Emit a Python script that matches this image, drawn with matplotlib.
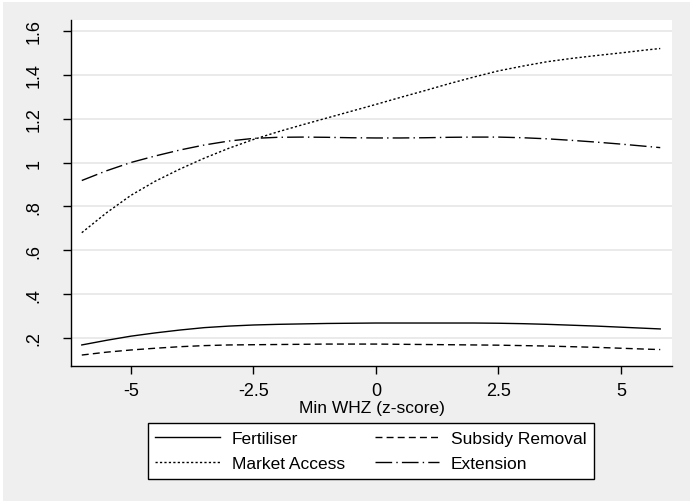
import matplotlib
matplotlib.use("Agg")
import matplotlib.pyplot as plt
from matplotlib.patches import Rectangle

plt.rcParams['font.family'] = ['Liberation Sans', 'DejaVu Sans']

# Predicted effects by minimum weight-for-height z-score
whz = [-6.0, -5.5, -5.0, -4.5, -4.0, -3.5, -3.0, -2.5, -2.0, -1.5, -1.0, -0.5,
       0.0, 0.5, 1.0, 1.5, 2.0, 2.5, 3.0, 3.5, 4.0, 4.5, 5.0, 5.5, 5.8]

fertiliser = [0.168, 0.189, 0.208, 0.223, 0.236, 0.247, 0.254, 0.259, 0.262, 0.264,
              0.266, 0.267, 0.268, 0.268, 0.268, 0.268, 0.268, 0.267, 0.265, 0.262,
              0.258, 0.254, 0.249, 0.244, 0.241]

subsidy_removal = [0.122, 0.135, 0.145, 0.153, 0.160, 0.165, 0.168, 0.169, 0.170, 0.171,
                   0.172, 0.172, 0.172, 0.171, 0.170, 0.169, 0.168, 0.167, 0.165, 0.163,
                   0.160, 0.157, 0.153, 0.149, 0.147]

market_access = [0.680, 0.770, 0.850, 0.915, 0.970, 1.020, 1.065, 1.105, 1.140, 1.172,
                 1.203, 1.234, 1.265, 1.297, 1.328, 1.360, 1.390, 1.418, 1.440, 1.460,
                 1.475, 1.488, 1.500, 1.513, 1.520]

extension = [0.918, 0.962, 1.000, 1.030, 1.057, 1.080, 1.098, 1.110, 1.115, 1.116,
             1.115, 1.113, 1.112, 1.112, 1.113, 1.115, 1.116, 1.116, 1.113, 1.108,
             1.101, 1.093, 1.084, 1.074, 1.068]

x_ticks = [-5, -2.5, 0, 2.5, 5]
x_tick_labels = ["-5", "-2.5", "0", "2.5", "5"]
y_ticks = [0.2, 0.4, 0.6, 0.8, 1.0, 1.2, 1.4, 1.6]
y_tick_labels = [".2", ".4", ".6", ".8", "1", "1.2", "1.4", "1.6"]

W, H = 690, 502
fig = plt.figure(figsize=(W / 100, H / 100), dpi=100, facecolor="white")
# grey graph region with thin white margin at top-left
fig.patches.append(Rectangle((3 / W, 0), 1 - 3 / W, 1 - 3 / H, transform=fig.transFigure,
                             facecolor="#efefef", edgecolor="none", zorder=-10))

ax = fig.add_axes([71 / W, 1 - 367 / H, (672 - 71) / W, (367 - 21) / H])
ax.set_facecolor("white")

lw = 1.0
ax.plot(whz, fertiliser, color="black", lw=lw, linestyle="-", label="Fertiliser")
ax.plot(whz, market_access, color="black", lw=lw, linestyle=(0, (1.6, 1.6)), label="Market Access")
ax.plot(whz, subsidy_removal, color="black", lw=lw, linestyle=(0, (5, 3)), label="Subsidy Removal")
ax.plot(whz, extension, color="black", lw=lw, linestyle=(0, (12, 3, 1, 3)), label="Extension")

ax.set_xlim(-6.22, 6.04)
ax.set_ylim(0.072, 1.65)

ax.set_xticks(x_ticks)
ax.set_xticklabels(x_tick_labels)
ax.set_yticks(y_ticks)
ax.set_yticklabels(y_tick_labels, rotation=90, va="center")

ax.grid(axis="y", color="#e6e6e6", lw=1.2)
ax.set_axisbelow(True)
for s in ["top", "right"]:
    ax.spines[s].set_visible(False)
for s in ["left", "bottom"]:
    ax.spines[s].set_color("black")
    ax.spines[s].set_linewidth(1.0)

ax.tick_params(axis="both", direction="out", length=5.5, width=1, color="black",
               labelsize=13, labelcolor="black")
ax.tick_params(axis="x", pad=6)
ax.tick_params(axis="y", pad=15)

ax.set_xlabel("Min WHZ (z-score)", fontsize=12.5, labelpad=1)

leg = fig.legend(loc="center", bbox_to_anchor=((147 + 595) / 2 / W, 1 - 452 / H),
                 ncol=2, frameon=True, fancybox=False, fontsize=12.5,
                 handlelength=3.7, columnspacing=1.7, handletextpad=0.7,
                 borderpad=0.45, labelspacing=0.6)
leg.get_frame().set_edgecolor("black")
leg.get_frame().set_linewidth(1.0)
leg.get_frame().set_facecolor("white")
leg.get_frame().set_alpha(1)

fig.savefig("out.png", dpi=100, facecolor=fig.get_facecolor())
